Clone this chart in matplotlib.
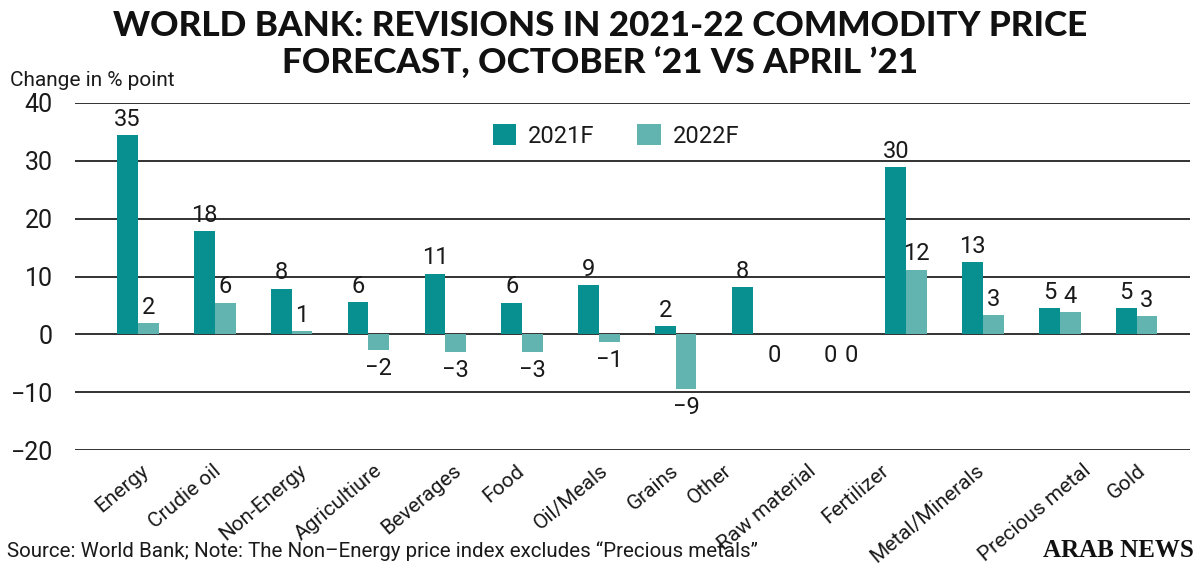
import numpy as np
import matplotlib.pyplot as plt

categories = ["Energy", "Crudie oil", "Non-Energy", "Agricultiure", "Beverages", "Food",
              "Oil/Meals", "Grains", "Other", "Raw material", "Fertilizer",
              "Metal/Minerals", "Precious metal", "Gold"]
f2021 = [34.4, 17.8, 7.9, 5.6, 10.5, 5.5, 8.5, 1.4, 8.1, 0, 28.9, 12.5, 4.5, 4.5]
f2022 = [2.0, 5.5, 0.5, -2.7, -3.1, -3.1, -1.4, -9.4, 0, 0, 11.2, 3.3, 3.8, 3.1]
lab2021 = [35, 18, 8, 6, 11, 6, 9, 2, 8, 0, 30, 13, 5, 5]
lab2022 = [2, 6, 1, -2, -3, -3, -1, -9, 0, 0, 12, 3, 4, 3]

# the category names are not quite centred on their groups in the original (group widths)
name_shift = [0.03, -0.03, 0.08, 0.07, 0.1, -0.09, 0.0, -0.08, -0.39, -0.29,
              -0.34, -0.1, 0.29, 0.0]

c21 = "#07908f"
c22 = "#62b4b1"
font = "Roboto"
txt = "#1a1a1a"

fig = plt.figure(figsize=(12, 5.68), dpi=100)
ax = fig.add_axes([0.0625, 0.2077, 0.9295, 0.611])

x = np.arange(len(categories))
w = 0.27
ax.bar(x - w / 2, f2021, w, color=c21, linewidth=0, label="2021F", zorder=3)
ax.bar(x + w / 2, f2022, w, color=c22, linewidth=0, label="2022F", zorder=3)

def put_labels(xs, vals, labs):
    for xi, v, l in zip(xs, vals, labs):
        if l > 0:
            ax.annotate(str(l), (xi, v), xytext=(0, 3), textcoords="offset points",
                        ha="center", va="bottom", fontsize=17, family=font, color=txt)
        elif l < 0:
            ax.annotate(str(l).replace("-", "\u2212"), (xi, v), xytext=(0, -5), textcoords="offset points",
                        ha="center", va="top", fontsize=17, family=font, color=txt)
        else:
            ax.annotate("0", (xi, v), xytext=(8, -7), textcoords="offset points",
                        ha="center", va="top", fontsize=17, family=font, color=txt)

put_labels(x - w / 2, f2021, lab2021)
put_labels(x + w / 2, f2022, lab2022)

ax.set_ylim(-20, 40)
ax.set_xlim(-0.82, 13.7)
ax.set_yticks(range(-20, 41, 10))
ax.set_yticklabels([str(v).replace("-", "\u2212") for v in range(-20, 41, 10)],
                   fontsize=18, family=font, color=txt)
ax.grid(axis="y", color="#222222", linewidth=1.3, zorder=1)
ax.set_axisbelow(True)
for s in ax.spines.values():
    s.set_visible(False)
ax.tick_params(axis="y", length=0, pad=16)
ax.tick_params(axis="x", length=0, pad=8)
ax.set_xticks(x + np.array(name_shift))
ax.set_xticklabels(categories, rotation=40, ha="right", va="top", rotation_mode="anchor",
                   fontsize=15, family=font, color=txt)

leg = ax.legend(loc="upper center", bbox_to_anchor=(0.485, 1.0), ncol=2, frameon=False,
                prop={"family": font, "size": 17},
                handlelength=1.0, handleheight=1.0, columnspacing=1.8, handletextpad=0.5)
for t in leg.get_texts():
    t.set_color(txt)

fig.text(0.5, 0.982, "WORLD BANK: REVISIONS IN 2021-22 COMMODITY PRICE",
         ha="center", va="top", fontsize=25.3, fontweight="black", family="Lato", color="#111111")
fig.text(0.5, 0.918, "FORECAST, OCTOBER \u201821 VS APRIL \u201921",
         ha="center", va="top", fontsize=25.3, fontweight="black", family="Lato", color="#111111")
fig.text(0.008, 0.858, "Change in % point", fontsize=15, family=font, va="center", color=txt)
fig.text(0.006, 0.03, "Source: World Bank; Note: The Non\u2013Energy price index excludes \u201cPrecious metals\u201d",
         fontsize=14.8, family=font, va="center", color=txt)
fig.text(0.995, 0.03, "ARAB NEWS", fontsize=18, family="Liberation Serif", fontweight="bold",
         ha="right", va="center", color="#111111")

fig.savefig("out.png", dpi=100)
